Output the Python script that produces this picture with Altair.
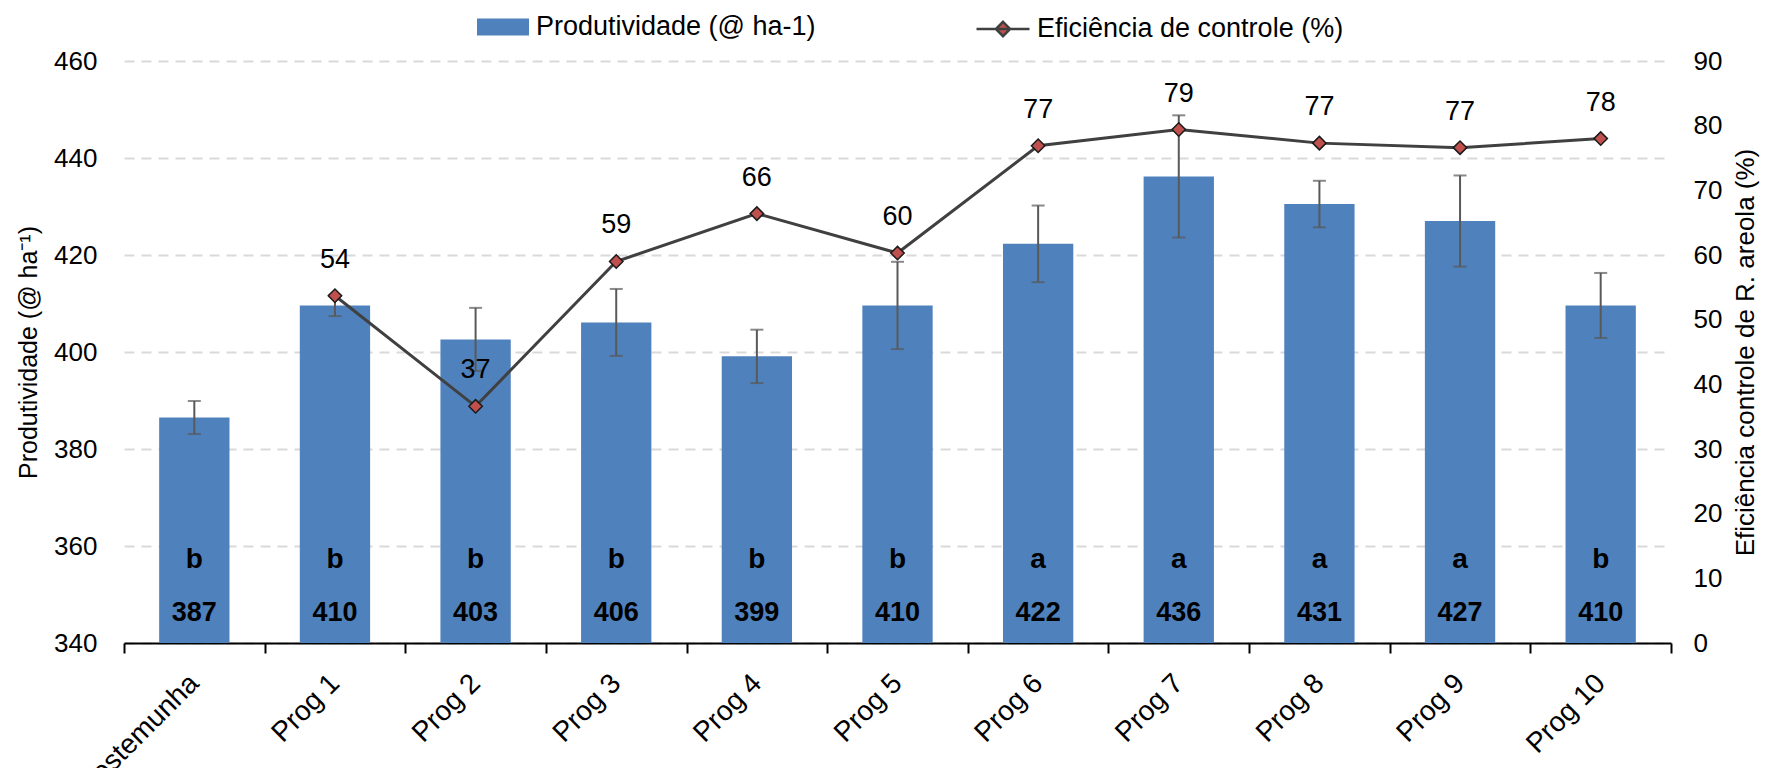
import altair as alt
import pandas as pd

categories = ["Testemunha", "Prog 1", "Prog 2", "Prog 3", "Prog 4", "Prog 5",
              "Prog 6", "Prog 7", "Prog 8", "Prog 9", "Prog 10"]
produtividade = [386.5, 409.6, 402.6, 406.1, 399.1, 409.6, 422.3, 436.2, 430.5, 427.0, 409.6]
prod_labels = ["387", "410", "403", "406", "399", "410", "422", "436", "431", "427", "410"]
erro = [3.4, 2.2, 6.5, 6.9, 5.5, 9.0, 7.9, 12.6, 4.8, 9.4, 6.7]
letras = ["b", "b", "b", "b", "b", "b", "a", "a", "a", "a", "b"]
eficiencia = [None, 53.7, 36.6, 59.0, 66.4, 60.3, 76.9, 79.4, 77.3, 76.6, 78.0]
ef_labels = ["", "54", "37", "59", "66", "60", "77", "79", "77", "77", "78"]
left_ticks = [340, 360, 380, 400, 420, 440, 460]
right_ticks = [0, 10, 20, 30, 40, 50, 60, 70, 80, 90]
serie_bar = "Produtividade (@ ha-1)"
serie_line = "Eficiência de controle (%)"

df = pd.DataFrame({
    "cat": categories,
    "prod": produtividade,
    "prodlab": prod_labels,
    "lo": [p - e for p, e in zip(produtividade, erro)],
    "hi": [p + e for p, e in zip(produtividade, erro)],
    "letra": letras,
    "ef": eficiencia,
    "eflab": ef_labels,
    "s1": [serie_bar] * len(categories),
    "s2": [serie_line] * len(categories),
})

FONT = "Liberation Sans Narrow, Arial Narrow, Liberation Sans, Arial, sans-serif"
FS = 27
W, H = 1547, 582
BLUE = "#4F81BD"
RED = "#C0504D"

x = alt.X("cat:N", sort=categories,
          scale=alt.Scale(paddingInner=0, paddingOuter=0),
          axis=alt.Axis(title=None, labelAngle=-45, labelAlign="right", labelBaseline="top",
                        labelFontSize=28, labelFont=FONT, labelColor="black", labelPadding=16,
                        labelOffset=-10,
                        tickBand="extent", tickSize=10, tickColor="black", tickWidth=2,
                        domainColor="black", domainWidth=2, grid=False))


def yleft(field):
    return alt.Y(field, type="quantitative",
                 scale=alt.Scale(domain=[340, 460], zero=False, nice=False),
                 axis=alt.Axis(title="Produtividade (@ ha⁻¹)", values=left_ticks,
                               labelFontSize=26, labelFont=FONT, labelColor="black",
                               labelPadding=27, ticks=False, domain=False,
                               grid=True, gridDash=[10, 7], gridColor="#d9d9d9", gridWidth=2,
                               titleFontSize=25, titleFont=FONT, titleFontWeight="normal",
                               titleColor="black", titlePadding=12))


def yright(field):
    return alt.Y(field, type="quantitative",
                 scale=alt.Scale(domain=[0, 90], nice=False),
                 axis=alt.Axis(orient="right", title="Eficiência controle de R. areola (%)",
                               values=right_ticks, labelFontSize=26, labelFont=FONT,
                               labelColor="black", labelPadding=22, ticks=False, domain=False,
                               grid=False, titleFontSize=26, titleFont=FONT,
                               titleFontWeight="normal", titleColor="black", titlePadding=11,
                               titleAngle=270, titleBaseline="top"))


base = alt.Chart(df)

bars = base.mark_bar(width=alt.RelativeBandSize(0.5), clip=True).encode(
    x=x, y=yleft("prod"),
    color=alt.Color("s1:N", scale=alt.Scale(range=[BLUE]),
                    legend=alt.Legend(orient="none", legendX=353, legendY=-60, title=None,
                                      symbolType="M-1,-0.33H1V0.33H-1Z", symbolSize=2704,
                                      labelFontSize=FS, labelFont=FONT, labelColor="black",
                                      labelOffset=7, labelLimit=600, padding=0,
                                      symbolStrokeWidth=0)))

err_rule = base.mark_rule(color="#595959", strokeWidth=2).encode(
    x=x, y=yleft("lo"), y2="hi:Q")
cap_lo = base.mark_tick(color="#595959", thickness=2, size=13).encode(x=x, y=yleft("lo"))
cap_hi = base.mark_tick(color="#595959", thickness=2, size=13).encode(x=x, y=yleft("hi"))

letters = base.mark_text(fontSize=28, fontWeight="bold", font=FONT, color="black").encode(
    x=x, y=alt.value(H - 83), text="letra:N")
numbers = base.mark_text(fontSize=27, fontWeight="bold", font=FONT, color="black").encode(
    x=x, y=alt.value(H - 30), text="prodlab:N")

left = alt.layer(bars, err_rule, cap_lo, cap_hi, letters, numbers)

line = base.mark_line(color="#404040", strokeWidth=3).encode(x=x, y=yright("ef"))
points = base.mark_point(shape="diamond", filled=True, size=180, stroke="#1a1a1a",
                         strokeWidth=1.5, opacity=1).encode(
    x=x, y=yright("ef"),
    fill=alt.Fill("s2:N", scale=alt.Scale(range=[RED]),
                  legend=alt.Legend(orient="none", legendX=851, legendY=-60, title=None,
                                    symbolType="M-1,0H1M0,-0.27L0.27,0L0,0.27L-0.27,0Z",
                                    symbolSize=2809, symbolStrokeColor="#404040",
                                    symbolStrokeWidth=2.5, labelFontSize=FS, labelFont=FONT,
                                    labelColor="black", labelOffset=6, labelLimit=600,
                                    padding=0)))
ef_text = base.transform_filter("datum.ef != null").mark_text(
    fontSize=FS, font=FONT, color="black", dy=-36).encode(
    x=x, y=yright("ef"), text="eflab:N")

right = alt.layer(line, points, ef_text)

chart = alt.layer(left, right).resolve_scale(y="independent").properties(
    width=W, height=H,
    padding={"left": 116, "top": 53, "right": 91, "bottom": 125},
    autosize=alt.AutoSizeParams(type="none"),
).configure(font=FONT).configure_view(stroke="transparent")

chart.save("out.html", embed_options={"renderer": "svg", "actions": False})
